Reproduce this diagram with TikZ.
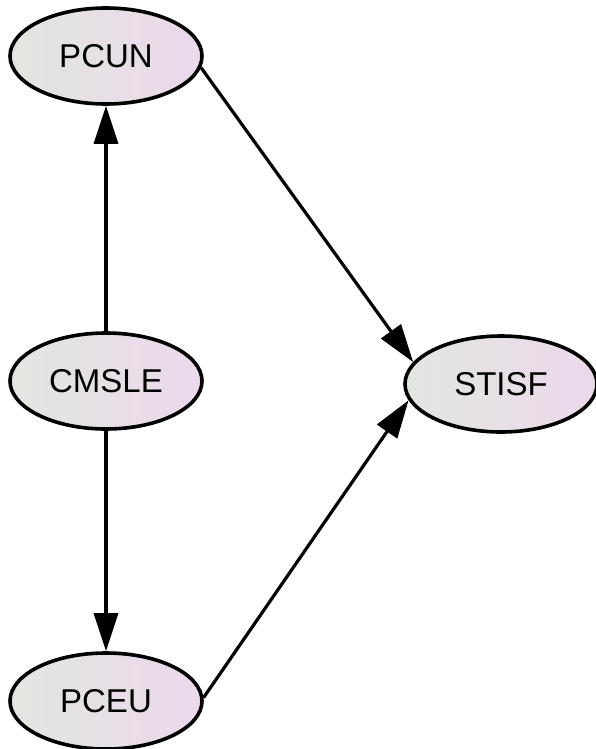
\documentclass[tikz,border=0pt]{standalone}
\usepackage{fontspec}
\setmainfont{Liberation Sans}
\usetikzlibrary{shapes.geometric}
\usetikzlibrary{arrows.meta}
\usetikzlibrary{positioning}
\definecolor{varleft}{RGB}{226,230,224}
\definecolor{varright}{RGB}{236,216,236}

\begin{document}
\begin{tikzpicture}[x=1pt,y=-1pt,
                var/.style={ellipse,draw,line width=3.6pt,
                  left color=varleft,right color=varright,
                  minimum width=192pt,minimum height=96pt,inner sep=0pt,
                  font=\fontsize{33}{40}\selectfont},
                every edge/.style={draw,line width=3.2pt,
                  -{Triangle[length=38pt,width=24pt]}}]
             \useasboundingbox (0,0) rectangle (596,749);
             \node[var] (pcun) at (106,56) {PCUN};
             \node[var] (cmsle) at (106,381) {CMSLE};
             \node[var] (pceu) at (106,701) {PCEU};
             \node[var] (stisf) at (501,384) {STISF};
             \draw (cmsle) edge (pcun)
                   (cmsle) edge (pceu)
                   (pcun.-7) edge (stisf.166)
                   (pceu.2) edge (stisf.190);
             \end{tikzpicture}
\end{document}
